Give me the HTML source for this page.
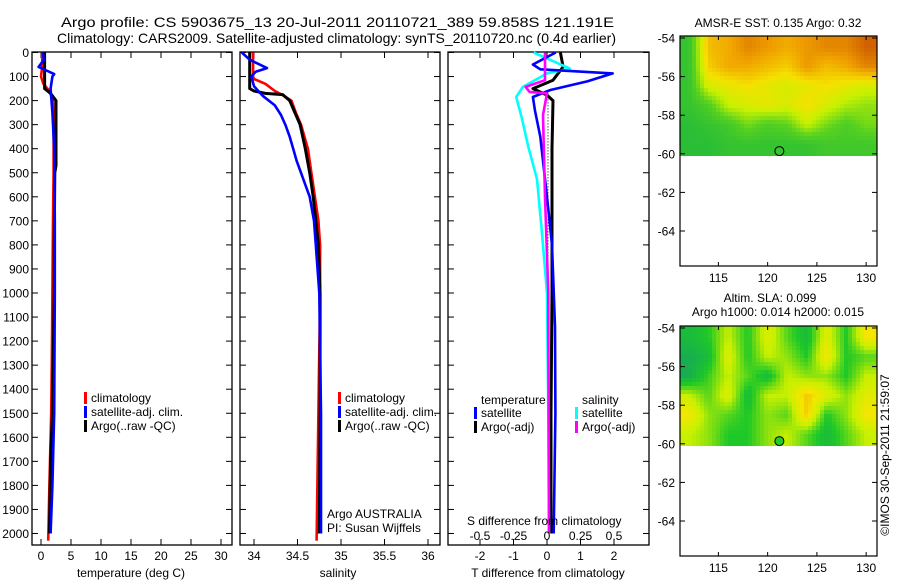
<!DOCTYPE html>
<html><head><meta charset="utf-8"><style>
html,body{margin:0;padding:0;background:#fff;}
svg{display:block;font-family:"Liberation Sans",Arial,sans-serif;}
</style></head><body>
<svg id="chart" width="900" height="580" viewBox="0 0 900 580" xmlns="http://www.w3.org/2000/svg">
<text x="61" y="27" font-size="14" textLength="553" lengthAdjust="spacingAndGlyphs">Argo profile: CS 5903675_13 20-Jul-2011 20110721_389 59.858S 121.191E</text>
<text x="57" y="43" font-size="14" textLength="559" lengthAdjust="spacingAndGlyphs">Climatology: CARS2009. Satellite-adjusted climatology: synTS_20110720.nc (0.4d earlier)</text>
<g id="g"></g>
</svg>
<script>
// ---- data ----
const depthTicks = [0,100,200,300,400,500,600,700,800,900,1000,1100,1200,1300,1400,1500,1600,1700,1800,1900,2000];
const tempTicks = [0,5,10,15,20,25,30];
const salTicks = [34,34.5,35,35.5,36];
const salTickLabels = ["34","34.5","35","35.5","36"];
const tdiffTicks = [-2,-1,0,1,2];
const sdiffTicks = [-0.5,-0.25,0,0.25,0.5];
const sdiffTickLabels = ["-0.5","-0.25","0","0.25","0.5"];

const tClimDepth = [0,60,100,130,160,200,300,500,700,1000,1300,1500,1800,2030];
const tClimVal   = [0.2,0.2,0.0,0.4,1.4,2.0,2.1,2.1,2.0,1.9,1.8,1.7,1.4,1.2];
const tSatDepth = [0,30,60,75,90,100,150,250,400,700,1000,1500,1800,2000];
const tSatVal   = [0.3,0.5,-0.4,0.9,2.2,1.9,1.6,1.9,2.2,2.3,2.3,2.2,1.9,1.6];
const tArgoDepth = [0,150,170,200,300,470,500,800,1000,1500,1700,2000];
const tArgoVal   = [0.6,0.6,1.6,2.5,2.5,2.5,2.3,2.2,2.2,1.9,1.6,1.4];

const sClimDepth = [0,100,110,130,160,175,200,250,300,400,500,600,700,800,1000,1500,2030];
const sClimVal   = [33.99,33.99,34.0,34.13,34.24,34.32,34.43,34.48,34.54,34.62,34.66,34.70,34.74,34.76,34.76,34.74,34.72];
const sSatDepth = [0,30,65,80,100,140,180,220,260,300,350,400,450,500,600,700,800,1000,1500,2000];
const sSatVal   = [33.86,33.95,34.15,34.02,33.97,34.0,34.1,34.24,34.31,34.36,34.41,34.45,34.49,34.54,34.64,34.69,34.71,34.75,34.77,34.77];
const sArgoDepth = [0,150,160,170,175,200,300,400,500,600,800,1000,1500,2000];
const sArgoVal   = [33.95,33.95,34.0,34.13,34.33,34.41,34.53,34.59,34.64,34.68,34.74,34.76,34.76,34.75];

const dtSatDepth = [0,50,70,87,120,156,185,240,350,600,800,1140,1500,2000];
const dtSatVal   = [0.26,-0.42,-0.2,1.96,1.2,0.1,-0.42,-0.36,-0.2,0.0,0.15,0.24,0.25,0.2];
const dtArgoDepth = [0,60,115,150,177,200,400,1000,1500,2000];
const dtArgoVal   = [0.4,0.48,0.18,-0.42,0.0,0.18,0.15,0.15,0.12,0.12];
const dsSatDepth = [0,67,87,143,185,267,390,527,733,1000,1500,2000];
const dsSatVal   = [-0.1,0.17,0.0,-0.18,-0.23,-0.19,-0.14,-0.075,-0.04,0.0,0.01,0.015];
const dsArgoDepth = [0,115,143,164,170,260,600,1000,1500,2000];
const dsArgoVal   = [-0.015,-0.015,-0.16,-0.13,0.0,-0.03,-0.015,0.01,0.012,0.015];

const latTicks = [-54,-56,-58,-60,-62,-64];
const lonTicks = [115,120,125,130];
const sstGrid = [
 [0.1,0.7,0.75,0.85,0.8,0.75,0.8,0.85,0.85,0.95],
 [0.1,0.65,0.75,0.75,0.7,0.65,0.8,0.7,0.75,0.85],
 [0.1,0.5,0.55,0.6,0.55,0.5,0.55,0.6,0.55,0.5],
 [0.1,0.2,0.45,0.5,0.55,0.5,0.6,0.5,0.4,0.35],
 [0.05,0.1,0.15,0.3,0.2,0.25,0.45,0.3,0.2,0.3],
 [0.05,0.05,0.1,0.1,0.1,0.1,0.1,0.15,0.15,0.15]];
const slaGrid = [
 [0.2,0.3,0.6,0.3,0.7,0.4,0.2,0.7,0.3,0.8],
 [0.1,0.2,0.7,0.3,0.6,0.5,0.3,0.8,0.3,0.4],
 [0.1,0.35,0.6,0.4,0.2,0.6,0.5,0.5,0.3,0.6],
 [0.6,0.4,0.7,0.2,0.6,0.6,0.9,0.7,0.5,0.7],
 [0.8,0.5,0.4,0.3,0.5,0.4,0.9,0.3,0.5,0.8],
 [0.6,0.5,0.3,0.3,0.5,0.6,0.4,0.2,0.4,0.6]];
const floatLon = 121.19, floatLat = -59.86;

// ---- helpers ----
const NS="http://www.w3.org/2000/svg";
const G=document.getElementById('g');
function mk(tag,attrs,parent){const e=document.createElementNS(NS,tag);for(const k in attrs)e.setAttribute(k,attrs[k]);(parent||G).appendChild(e);return e;}
function txt(s,x,y,size,anchor,parent){const t=mk('text',{x:x,y:y,'font-size':size,'text-anchor':anchor||'start'},parent);t.textContent=s;return t;}
const yD = d => 52.5 + d*0.2405;
const xT = v => 41 + v*6.0;
const xS = v => 254 + (v-34)*87;
const xDT = v => 547 + v*33.5;
const xDS = v => 547 + v*134;
const TOP=52, BOT=545;

function frame(x0,x1,name){
  const r=mk('rect',{x:x0,y:TOP,width:x1-x0,height:BOT-TOP,fill:'none',stroke:'#000','stroke-width':1.3});
  
  
  depthTicks.forEach(d=>{const y=yD(d);
    mk('line',{x1:x0,x2:x0+6,y1:y,y2:y,stroke:'#000'});
    mk('line',{x1:x1-6,x2:x1,y1:y,y2:y,stroke:'#000'});});
}
function xticks(vals,f,labels,yl){
  vals.forEach((v,i)=>{const x=f(v);
    mk('line',{x1:x,x2:x,y1:TOP,y2:TOP+6,stroke:'#000'});
    mk('line',{x1:x,x2:x,y1:BOT-6,y2:BOT,stroke:'#000'});
    if(labels){const t=txt(labels[i],x,yl,12,'middle');
      
      }});
}
function line(depths,vals,f,color,name,w){
  const pts=depths.map((d,i)=>f(vals[i]).toFixed(1)+','+yD(d).toFixed(1)).join(' ');
  const p=mk('polyline',{points:pts,fill:'none',stroke:color,'stroke-width':w||2.6,'stroke-linejoin':'round'});
  
  
}
function legend(x,y,color,label){
  const r=mk('rect',{x:x,y:y-10,width:3,height:12,fill:color});
  
  
  const t=txt(label,x+7,y,12);
  
  
}

depthTicks.forEach(d=>{const t=txt(String(d),29,yD(d)+4.5,12,'end');
  
  });

// panel 1 temperature
frame(32,232,'temperature-panel');
xticks(tempTicks,xT,tempTicks.map(String),560);
let t1=txt('temperature (deg C)',131,577,12,'middle');


line(tClimDepth,tClimVal,xT,'#ff0000','temp-climatology-line');
line(tArgoDepth,tArgoVal,xT,'#000','temp-argo-line',3);
line(tSatDepth,tSatVal,xT,'#0000ff','temp-satellite-line');
legend(84,402,'#ff0000','climatology');
legend(84,416,'#0000ff','satellite-adj. clim.');
legend(84,430,'#000','Argo(..raw -QC)');

// panel 2 salinity
frame(240,440,'salinity-panel');
xticks(salTicks,xS,salTickLabels,560);
let t2=txt('salinity',338,577,12,'middle');


line(sClimDepth,sClimVal,xS,'#ff0000','sal-climatology-line');
line(sArgoDepth,sArgoVal,xS,'#000','sal-argo-line',3);
line(sSatDepth,sSatVal,xS,'#0000ff','sal-satellite-line');
legend(338,402,'#ff0000','climatology');
legend(338,416,'#0000ff','satellite-adj. clim.');
legend(338,430,'#000','Argo(..raw -QC)');
let a1=txt('Argo AUSTRALIA',327,518,12);  
let a2=txt('PI: Susan Wijffels',327,532,12);  

// panel 3 differences
frame(448,649,'difference-panel');
xticks(tdiffTicks,xDT,tdiffTicks.map(String),560);
let t3=txt('T difference from climatology',548,577,12,'middle');


mk('line',{x1:548,x2:548,y1:yD(170),y2:yD(2000),stroke:'#000','stroke-width':1,'stroke-dasharray':'1,2'});
line(dtArgoDepth,dtArgoVal,xDT,'#000','tdiff-argo-line',3);
line(dsSatDepth,dsSatVal,xDS,'#00ffff','sdiff-satellite-line');
line(dtSatDepth,dtSatVal,xDT,'#0000ff','tdiff-satellite-line');
line(dsArgoDepth,dsArgoVal,xDS,'#ff00ff','sdiff-argo-line');
let l1=txt('temperature',481,404,12);  
let l2=txt('salinity',582,404,12);  
legend(474,417,'#0000ff','satellite');
legend(474,431,'#000','Argo(-adj)');
legend(575,417,'#00ffff','satellite');
legend(575,431,'#ff00ff','Argo(-adj)');
let s1=txt('S difference from climatology',467,525,12);  
sdiffTicks.forEach((v,i)=>{const t=txt(sdiffTickLabels[i],xDS(v),540,12,'middle');
  
  });

// ---- maps ----
function lerpColor(stops,v){
  v=Math.max(0,Math.min(1,v));
  for(let i=1;i<stops.length;i++){if(v<=stops[i][0]){const a=stops[i-1],b=stops[i],t=(v-a[0])/(b[0]-a[0]);
    return 'rgb('+[1,2,3].map(k=>Math.round(a[k]+(b[k]-a[k])*t)).join(',')+')';}}
  const s=stops[stops.length-1];return 'rgb('+s[1]+','+s[2]+','+s[3]+')';
}
function sample(grid,fr,fc){
  const R=grid.length,C=grid[0].length;
  fr=Math.max(0,Math.min(R-1,fr)); fc=Math.max(0,Math.min(C-1,fc));
  const r0=Math.floor(fr),c0=Math.floor(fc),r1=Math.min(R-1,r0+1),c1=Math.min(C-1,c0+1);
  const tr=fr-r0,tc=fc-c0;
  const a=grid[r0][c0]*(1-tc)+grid[r0][c1]*tc, b=grid[r1][c0]*(1-tc)+grid[r1][c1]*tc;
  return a*(1-tr)+b*tr;
}
const sstStops=[[0,30,185,60],[0.25,90,210,30],[0.45,200,240,0],[0.6,245,225,0],[0.78,240,160,0],[1,200,80,0]];
const slaStops=[[0,20,160,100],[0.3,30,200,40],[0.6,200,240,0],[0.8,245,230,0],[1,240,170,0]];
function map(top,grid,stops,name){
  const x0=680,x1=877,bot=top+230;
  const lonX=l=>679+(l-111)*9.85;
  const latY=l=>top+2+(-54-l)*19.3;
  const g=mk('g',{});
  
  
  const yEnd=latY(-60.1), step=4;
  for(let y=top;y<yEnd;y+=step){
    for(let x=x0;x<x1;x+=step){
      const lon=111+(x+step/2-679)/9.85, lat=-54-(y+step/2-top-2)/19.3;
      const fc=(lon-111)/2-0.5, fr=(-54-lat)-0.5;
      mk('rect',{x:x,y:y,width:Math.min(step,x1-x)+0.3,height:Math.min(step,yEnd-y)+0.3,fill:lerpColor(stops,sample(grid,fr,fc))},g);
    }
  }
  const f=mk('rect',{x:x0,y:top,width:x1-x0,height:bot-top,fill:'none',stroke:'#000','stroke-width':1.2});
  
  
  latTicks.forEach(l=>{const y=latY(l);
    mk('line',{x1:x0,x2:x0+5,y1:y,y2:y,stroke:'#000'});
    mk('line',{x1:x1-5,x2:x1,y1:y,y2:y,stroke:'#000'});
    const t=txt(String(l),675,y+4.5,12,'end');
    
    });
  lonTicks.forEach(l=>{const x=lonX(l);
    mk('line',{x1:x,x2:x,y1:top,y2:top+4,stroke:'#000'});
    mk('line',{x1:x,x2:x,y1:bot-4,y2:bot,stroke:'#000'});
    const t=txt(String(l),x,bot+16,12,'middle');
    
    });
  return {lonX,latY};
}
const m1=map(36,sstGrid,sstStops,'sst-map');
const c1=mk('circle',{cx:m1.lonX(floatLon),cy:m1.latY(floatLat),r:4.5,fill:'none',stroke:'#000','stroke-width':1});


const m2=map(326,slaGrid,slaStops,'sla-map');
const c2=mk('circle',{cx:m2.lonX(floatLon),cy:m2.latY(floatLat),r:4.5,fill:'#22cc22',stroke:'#000','stroke-width':1});


let mt1=txt('AMSR-E SST: 0.135 Argo: 0.32',778,27,12,'middle');  
let mt2=txt('Altim. SLA: 0.099',770,302,12,'middle');  
let mt3=txt('Argo h1000: 0.014 h2000: 0.015',778,316,12,'middle');  
const cr=txt('\u00A9IMOS 30-Sep-2011 21:59:07',0,0,12,'middle');
cr.setAttribute('transform','translate(889,455) rotate(-90)');


</script>
</body></html>
